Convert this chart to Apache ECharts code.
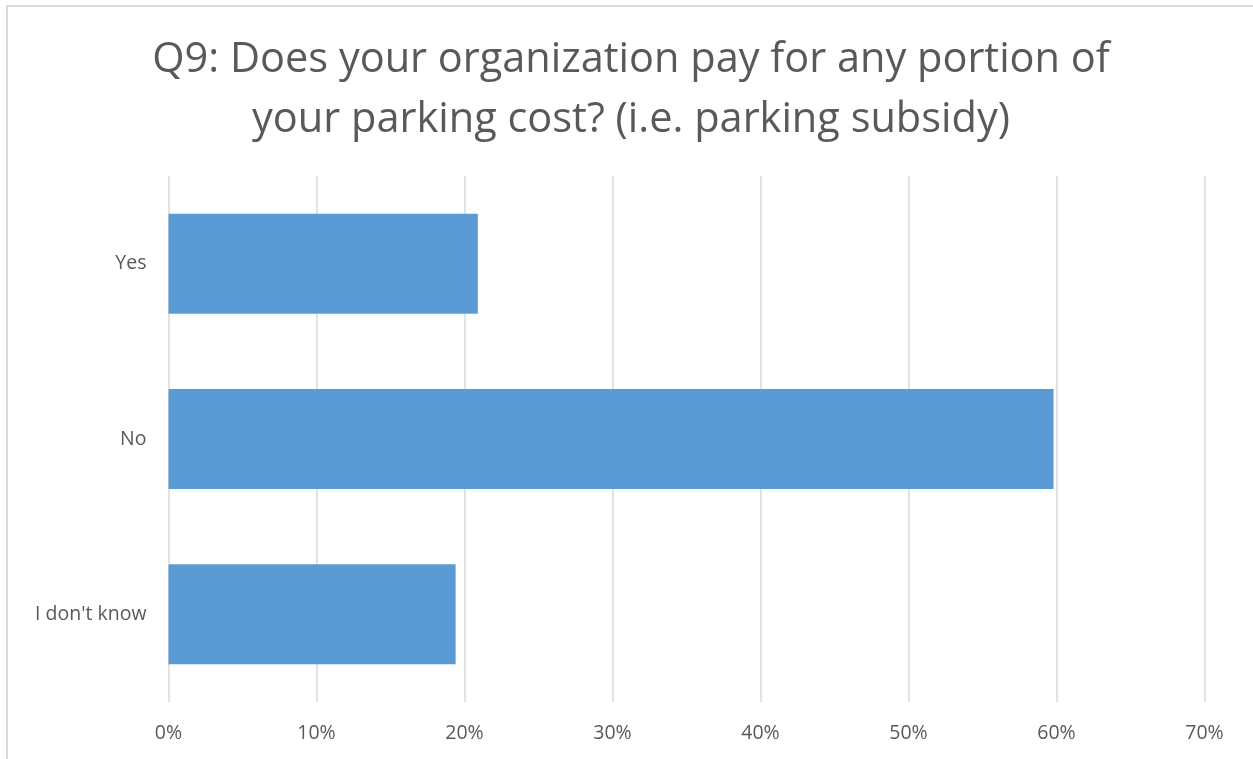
<!DOCTYPE html>
<html>
<head>
<meta charset="utf-8">
<script src="https://cdn.jsdelivr.net/npm/echarts@6/dist/echarts.min.js"></script>
<style>
  html, body { margin: 0; padding: 0; background: #fff; }
  #chart { width: 1253px; height: 759px; }
</style>
</head>
<body>
<div id="chart"></div>
<script>
const titleText = 'Q9: Does your organization pay for any portion of\nyour parking cost? (i.e. parking subsidy)'
const categories = ['Yes', 'No', "I don't know"]
const values = [20.9, 59.8, 19.4]
const tickMin = 0
const tickMax = 70
const tickStep = 10

const font = '"Open Sans", "Noto Sans", sans-serif'
const textColor = '#595959'
const gridColor = '#d9d9d9'

const myChart = echarts.init(document.getElementById('chart'))
myChart.setOption({
  animation: false,
  graphic: [
    {
      type: 'rect',
      shape: { x: 7, y: 6, width: 1300, height: 800 },
      style: { fill: 'none', stroke: gridColor, lineWidth: 2 },
    },
  ],
  title: {
    text: titleText,
    left: 626,
    textAlign: 'center',
    top: 25,
    textStyle: {
      color: textColor,
      fontFamily: font,
      fontWeight: 'normal',
      fontSize: 41.5,
      lineHeight: 60,
    },
  },
  grid: {
    left: 168.5,
    right: 48.5,
    top: 176,
    bottom: 57,
    containLabel: false,
  },
  xAxis: {
    type: 'value',
    min: tickMin,
    max: tickMax,
    interval: tickStep,
    axisLine: { show: false },
    axisTick: { show: false },
    axisLabel: {
      formatter: '{value}%',
      color: textColor,
      fontFamily: font,
      fontSize: 19.5,
      margin: 21,
    },
    splitLine: {
      show: true,
      lineStyle: { color: gridColor, width: 1.5 },
    },
  },
  yAxis: {
    type: 'category',
    data: categories,
    inverse: true,
    axisLine: { show: false },
    axisTick: { show: false },
    axisLabel: {
      color: textColor,
      fontFamily: font,
      fontSize: 19.5,
      margin: 22,
    },
  },
  series: [
    {
      type: 'bar',
      data: values,
      barCategoryGap: '43%',
      itemStyle: { color: '#5b9bd5' },
    },
  ],
})
</script>
</body>
</html>
